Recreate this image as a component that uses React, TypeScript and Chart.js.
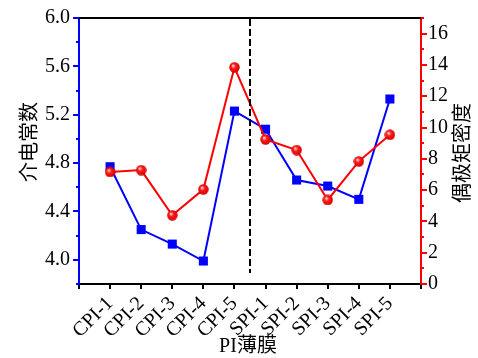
import React, { useEffect, useRef } from 'react';
import { Chart, registerables } from 'chart.js';

Chart.register(...registerables);

const categories = ['CPI-1', 'CPI-2', 'CPI-3', 'CPI-4', 'CPI-5', 'SPI-1', 'SPI-2', 'SPI-3', 'SPI-4', 'SPI-5'];
const dielectric = [4.77, 4.25, 4.13, 3.99, 5.23, 5.08, 4.66, 4.61, 4.5, 5.33];
const dipole = [7.16, 7.28, 4.39, 6.05, 13.85, 9.24, 8.56, 5.37, 7.84, 9.54];
const leftTicks = [4.0, 4.4, 4.8, 5.2, 5.6, 6.0];
const leftMinor = [3.8, 4.2, 4.6, 5.0, 5.4, 5.8];
const rightTicks = [0, 2, 4, 6, 8, 10, 12, 14, 16];
const rightMinor = [1, 3, 5, 7, 9, 11, 13, 15, 17];
const xTicks = [0, 1, 2, 3, 4, 5, 6, 7, 8, 9, 10, 11];
const dividerValue = 5.5;
const dividerBottom = 0.7;
const leftTitle = '介电常数';
const rightTitle = '偶极矩密度';
const xTitle = 'PI薄膜';

const BLUE = '#0000ff';
const RED = '#ff0000';
const SERIF = "'Liberation Serif', 'Times New Roman', 'Noto Sans CJK SC', serif";

function makeSphere(): HTMLCanvasElement {
  const c = document.createElement('canvas');
  c.width = 11;
  c.height = 11;
  const g = c.getContext('2d')!;
  const grad = g.createRadialGradient(4, 3.8, 0.5, 5.5, 5.5, 5.5);
  grad.addColorStop(0, '#ffd0d0');
  grad.addColorStop(0.35, '#ff2020');
  grad.addColorStop(0.85, '#e00000');
  grad.addColorStop(1, '#b00000');
  g.fillStyle = grad;
  g.beginPath();
  g.arc(5.5, 5.5, 5.2, 0, Math.PI * 2);
  g.fill();
  return c;
}

const extrasPlugin = {
  id: 'extras',
  afterDraw(chart: any) {
    const { ctx, chartArea, scales } = chart;
    const yL = scales.yL;
    const yR = scales.yR;
    const x = scales.x;
    ctx.save();
    // top border
    ctx.strokeStyle = '#000';
    ctx.lineWidth = 2;
    ctx.beginPath();
    ctx.moveTo(chartArea.left, chartArea.top);
    ctx.lineTo(chartArea.right, chartArea.top);
    ctx.stroke();
    // minor ticks
    ctx.strokeStyle = BLUE;
    leftMinor.forEach((v) => {
      const py = Math.round(yL.getPixelForValue(v));
      ctx.beginPath();
      ctx.moveTo(chartArea.left - 3, py);
      ctx.lineTo(chartArea.left, py);
      ctx.stroke();
    });
    ctx.strokeStyle = RED;
    rightMinor.forEach((v) => {
      const py = Math.round(yR.getPixelForValue(v));
      ctx.beginPath();
      ctx.moveTo(chartArea.right, py);
      ctx.lineTo(chartArea.right + 3, py);
      ctx.stroke();
    });
    // divider dashed line
    const dx = x.getPixelForValue(dividerValue);
    ctx.strokeStyle = '#000';
    ctx.lineWidth = 2;
    ctx.setLineDash([7, 3]);
    ctx.beginPath();
    ctx.moveTo(dx, chartArea.top + 1);
    ctx.lineTo(dx, yR.getPixelForValue(dividerBottom));
    ctx.stroke();
    ctx.setLineDash([]);
    // axis titles (both read bottom-to-top)
    ctx.fillStyle = '#000';
    ctx.font = `20px ${SERIF}`;
    ctx.textAlign = 'center';
    ctx.textBaseline = 'middle';
    const midY = (chartArea.top + chartArea.bottom) / 2;
    ctx.save();
    ctx.translate(31, midY - 9);
    ctx.rotate(-Math.PI / 2);
    ctx.fillText(leftTitle, 0, 0);
    ctx.restore();
    ctx.save();
    ctx.translate(chart.width - 14, midY + 2);
    ctx.rotate(-Math.PI / 2);
    ctx.fillText(rightTitle, 0, 0);
    ctx.restore();
    ctx.fillText(xTitle, (chartArea.left + chartArea.right) / 2 - 2, chart.height - 11);
    ctx.restore();
  },
};

export default function App() {
  const ref = useRef<HTMLCanvasElement>(null);
  useEffect(() => {
    document.body.style.margin = '0';
    const sphere = makeSphere();
    const chart = new Chart(ref.current!, {
      type: 'line',
      data: {
        datasets: [
          {
            label: rightTitle,
            data: dipole.map((v, i) => ({ x: i + 1, y: v })),
            yAxisID: 'yR',
            borderColor: RED,
            backgroundColor: RED,
            borderWidth: 2,
            pointStyle: sphere as any,
            pointRadius: 5.5,
            pointBorderWidth: 0,
          },
          {
            label: leftTitle,
            data: dielectric.map((v, i) => ({ x: i + 1, y: v })),
            yAxisID: 'yL',
            borderColor: BLUE,
            backgroundColor: BLUE,
            borderWidth: 2,
            pointStyle: 'rect',
            pointRadius: 6.4,
            pointBorderWidth: 0,
          },
        ],
      },
      options: {
        animation: false,
        responsive: false,
        devicePixelRatio: 1,
        layout: { padding: { top: 18, left: 0, right: 0, bottom: 0 } },
        plugins: { legend: { display: false }, tooltip: { enabled: false } },
        scales: {
          x: {
            type: 'linear',
            min: 0,
            max: 11,
            afterBuildTicks: (s: any) => {
              s.ticks = xTicks.map((v) => ({ value: v }));
            },
            afterFit: (s: any) => {
              s.height = 74;
            },
            border: { display: true, color: '#000', width: 2 },
            grid: { display: true, drawOnChartArea: false, drawTicks: true, tickLength: 5, color: '#000', lineWidth: 2 },
            ticks: {
              autoSkip: false,
              maxRotation: 45,
              minRotation: 45,
              padding: 3,
              color: '#000',
              font: { family: SERIF, size: 20 },
              callback: (v: any) => categories[Number(v) - 1] ?? '',
            },
            title: { display: false },
          },
          yL: {
            type: 'linear',
            position: 'left',
            min: 3.8,
            max: 6.0,
            afterBuildTicks: (s: any) => {
              s.ticks = leftTicks.map((v) => ({ value: v }));
            },
            afterFit: (s: any) => {
              s.width = 79;
            },
            border: { display: true, color: BLUE, width: 2 },
            grid: { display: true, drawOnChartArea: false, drawTicks: true, tickLength: 6, color: BLUE, lineWidth: 2 },
            ticks: {
              padding: 3,
              color: '#000',
              font: { family: SERIF, size: 20 },
              callback: (v: any) => Number(v).toFixed(1),
            },
            title: { display: false },
          },
          yR: {
            type: 'linear',
            position: 'right',
            min: 0,
            max: 17,
            afterBuildTicks: (s: any) => {
              s.ticks = rightTicks.map((v) => ({ value: v }));
            },
            afterFit: (s: any) => {
              s.width = 57;
            },
            border: { display: true, color: RED, width: 2 },
            grid: { display: true, drawOnChartArea: false, drawTicks: true, tickLength: 6, color: RED, lineWidth: 2 },
            ticks: {
              padding: 1,
              color: '#000',
              font: { family: SERIF, size: 20 },
              callback: (v: any) => String(v),
            },
            title: { display: false },
          },
        },
      },
      plugins: [extrasPlugin],
    } as any);
    return () => chart.destroy();
  }, []);
  return (
    <div style={{ position: 'absolute', left: 0, top: 0, width: 478, height: 358 }}>
      <canvas ref={ref} width={478} height={358} style={{ width: 478, height: 358 }} />
    </div>
  );
}
